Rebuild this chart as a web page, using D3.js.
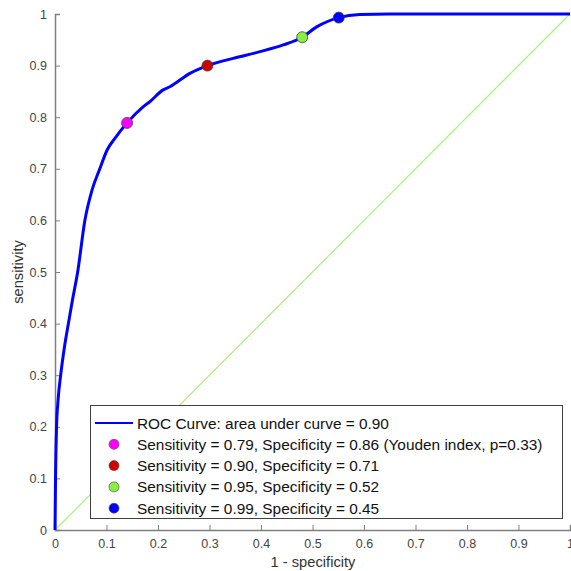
<!DOCTYPE html>
<html>
<head>
<meta charset="utf-8">
<script src="https://cdn.jsdelivr.net/npm/d3@7"></script>
<style>
  body { margin: 0; background: #fff; }
  svg { font-family: "Liberation Sans", Arial, sans-serif; }
</style>
</head>
<body>
<svg width="571" height="571"></svg>
<script>
// ROC curve points: [1 - specificity, sensitivity]
const rocFpr = [0, 0.001, 0.003, 0.006, 0.011, 0.0175, 0.026, 0.034, 0.044, 0.058, 0.072, 0.087, 0.101, 0.117, 0.14, 0.171, 0.184, 0.21, 0.223, 0.262, 0.296, 0.346, 0.398, 0.443, 0.48, 0.508, 0.551, 0.592, 0.65, 1]
const rocTpr = [0, 0.1, 0.2, 0.252, 0.3, 0.349, 0.4, 0.446, 0.5, 0.6, 0.659, 0.7, 0.736, 0.76, 0.789, 0.82, 0.83, 0.853, 0.859, 0.885, 0.9, 0.914, 0.927, 0.94, 0.955, 0.975, 0.993, 0.999, 1, 1]

// operating points
const pointFpr = [0.14, 0.296, 0.48, 0.551]
const pointTpr = [0.789, 0.9, 0.955, 0.993]
const pointColors = ['#ff00ff', '#d00000', '#88ee44', '#0000ff']
const legendLabels = [
  'ROC Curve: area under curve = 0.90',
  'Sensitivity = 0.79, Specificity = 0.86 (Youden index, p=0.33)',
  'Sensitivity = 0.90, Specificity = 0.71',
  'Sensitivity = 0.95, Specificity = 0.52',
  'Sensitivity = 0.99, Specificity = 0.45'
]
const tickValues = [0, 0.1, 0.2, 0.3, 0.4, 0.5, 0.6, 0.7, 0.8, 0.9, 1]

const svg = d3.select('svg')
const x = d3.scaleLinear().domain([0, 1]).range([55, 570])
const y = d3.scaleLinear().domain([0, 1]).range([530, 14])

// axes (ticks point inward, MATLAB style)
const xAxis = svg.append('g')
  .attr('transform', 'translate(0,530)')
  .call(d3.axisBottom(x).tickValues(tickValues).tickFormat(d3.format('~g')).tickSize(-5).tickPadding(9))
const yAxis = svg.append('g')
  .attr('transform', 'translate(55,0)')
  .call(d3.axisLeft(y).tickValues(tickValues).tickFormat(d3.format('~g')).tickSize(-5).tickPadding(8))

for (const g of [xAxis, yAxis]) {
  g.select('.domain').attr('stroke', '#808080').attr('stroke-width', 1.5)
  g.selectAll('.tick line').attr('stroke', '#808080')
  g.selectAll('.tick text').attr('fill', '#444').style('font-size', '12.5px')
}

svg.append('text')
  .attr('x', 313).attr('y', 567)
  .attr('text-anchor', 'middle')
  .attr('fill', '#333').style('font-size', '14.7px')
  .text('1 - specificity')
svg.append('text')
  .attr('transform', 'translate(23,272) rotate(-90)')
  .attr('text-anchor', 'middle')
  .attr('fill', '#333').style('font-size', '14.7px')
  .text('sensitivity')

// chance line
svg.append('line')
  .attr('x1', x(0)).attr('y1', y(0))
  .attr('x2', x(1)).attr('y2', y(1))
  .attr('stroke', '#a8f07c').attr('stroke-width', 1.2)

// ROC curve
const line = d3.line()
  .x(i => x(rocFpr[i]))
  .y(i => y(rocTpr[i]))
  .curve(d3.curveMonotoneX)
svg.append('path')
  .attr('d', line(d3.range(rocFpr.length)))
  .attr('fill', 'none')
  .attr('stroke', '#0000ff')
  .attr('stroke-width', 3)

svg.selectAll('circle.pt')
  .data(pointFpr)
  .enter()
  .append('circle')
  .attr('class', 'pt')
  .attr('cx', d => x(d))
  .attr('cy', (d, i) => y(pointTpr[i]))
  .attr('r', 5.5)
  .attr('fill', (d, i) => pointColors[i])
  .attr('stroke', '#444')
  .attr('stroke-width', 0.8)

// legend
const lg = svg.append('g')
lg.append('rect')
  .attr('x', 90.5).attr('y', 405.5)
  .attr('width', 472).attr('height', 113)
  .attr('fill', '#fff').attr('stroke', '#404040').attr('stroke-width', 1)

const rowY = i => 423 + i * 21.3
lg.append('line')
  .attr('x1', 95).attr('x2', 133)
  .attr('y1', rowY(0)).attr('y2', rowY(0))
  .attr('stroke', '#0000ff').attr('stroke-width', 2)
lg.selectAll('circle')
  .data(pointColors)
  .enter()
  .append('circle')
  .attr('cx', 114)
  .attr('cy', (d, i) => rowY(i + 1))
  .attr('r', 5)
  .attr('fill', d => d)
  .attr('stroke', '#444').attr('stroke-width', 0.6)
lg.selectAll('text')
  .data(legendLabels)
  .enter()
  .append('text')
  .attr('x', 137)
  .attr('y', (d, i) => rowY(i))
  .attr('dy', '0.36em')
  .attr('fill', '#111')
  .style('font-size', '15.4px')
  .text(d => d)
</script>
</body>
</html>
